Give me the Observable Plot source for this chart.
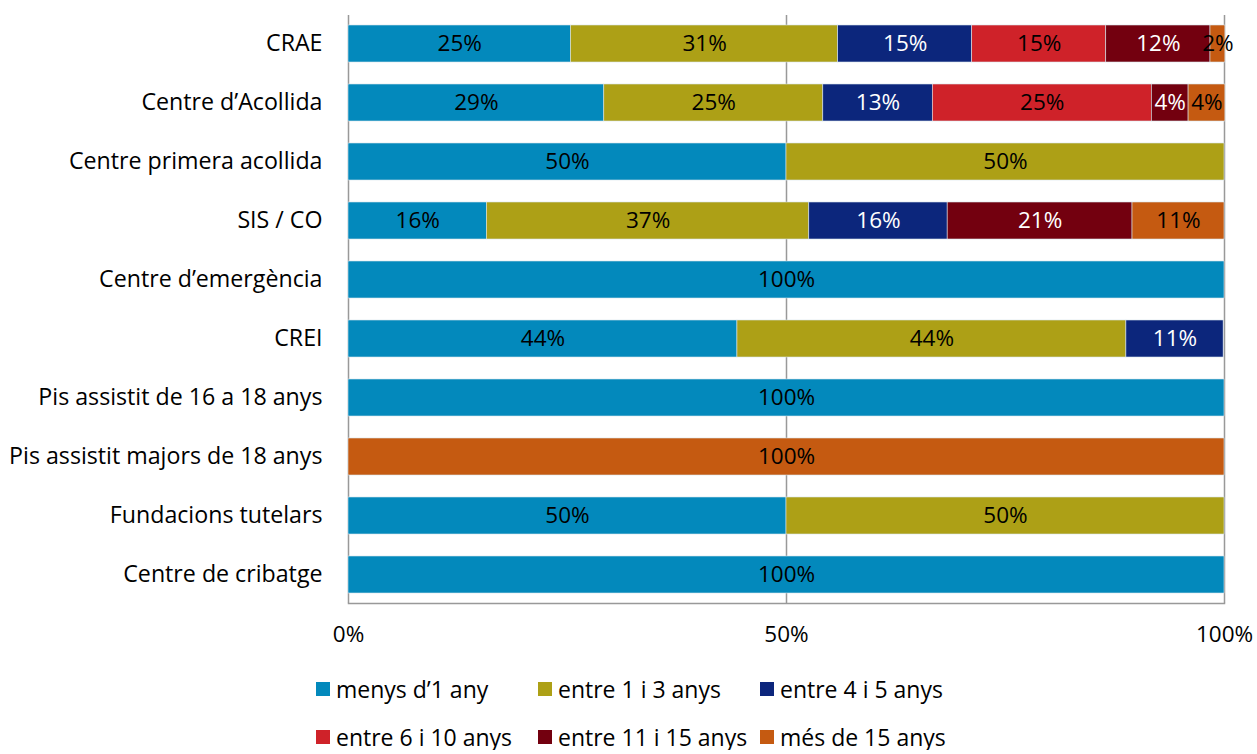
<!DOCTYPE html>
<html>
<head>
<meta charset="utf-8">
<script src="https://cdn.jsdelivr.net/npm/d3@7"></script>
<script src="https://cdn.jsdelivr.net/npm/@observablehq/plot@0.6"></script>
<style>
  body { margin: 0; background: #fff; font-family: "Open Sans", sans-serif; }
  #legend { display: grid; grid-template-columns: 222px 222px 222px; margin-left: 316px; row-gap: 22px; margin-top: 21px; }
  .item { display: flex; align-items: center; font-size: 23px; line-height: 26px; color: #000; height: 26px; white-space: nowrap; }
  .sw { width: 14px; height: 14px; margin-right: 6px; flex: none; }
</style>
</head>
<body>
<div id="chart"></div>
<div id="legend"></div>
<script>
const categories = ["CRAE", "Centre d’Acollida", "Centre primera acollida", "SIS / CO", "Centre d’emergència", "CREI", "Pis assistit de 16 a 18 anys", "Pis assistit majors de 18 anys", "Fundacions tutelars", "Centre de cribatge"];
const seriesNames = ["menys d’1 any", "entre 1 i 3 anys", "entre 4 i 5 anys", "entre 6 i 10 anys", "entre 11 i 15 anys", "més de 15 anys"];
const colors = ["#0389BC", "#ADA016", "#0C267C", "#CF2229", "#73000F", "#C55A11"];
const labelColors = ["#000", "#000", "#fff", "#000", "#fff", "#000"];
// shares per series, one value per category (in category order)
const menys1 = [0.254, 0.292, 0.50, 0.158, 1.00, 0.444, 1.00, 0.00, 0.50, 1.00];
const entre1i3 = [0.305, 0.250, 0.50, 0.368, 0.00, 0.444, 0.00, 0.00, 0.50, 0.00];
const entre4i5 = [0.153, 0.125, 0.00, 0.158, 0.00, 0.111, 0.00, 0.00, 0.00, 0.00];
const entre6i10 = [0.153, 0.250, 0.00, 0.00, 0.00, 0.00, 0.00, 0.00, 0.00, 0.00];
const entre11i15 = [0.119, 0.042, 0.00, 0.211, 0.00, 0.00, 0.00, 0.00, 0.00, 0.00];
const mes15 = [0.017, 0.042, 0.00, 0.105, 0.00, 0.00, 0.00, 1.00, 0.00, 0.00];
const xTicks = [0, 0.5, 1];

const seriesValues = [menys1, entre1i3, entre4i5, entre6i10, entre11i15, mes15];
const rows = [];
categories.forEach((c, ci) => {
  seriesValues.forEach((vals, si) => {
    if (vals[ci] > 0) rows.push({cat: c, series: seriesNames[si], si, value: vals[ci]});
  });
});

const fs = 22.5;
const chart = Plot.plot({
  width: 1257,
  height: 655,
  marginLeft: 348,
  marginRight: 33,
  marginTop: 15,
  marginBottom: 52,
  style: {fontFamily: "'Open Sans', sans-serif", fontSize: fs + "px", color: "#000"},
  x: {domain: [0, 1], ticks: xTicks, tickFormat: d => Math.round(d * 100) + "%"},
  y: {domain: categories, paddingInner: 0.37, paddingOuter: 0.15, label: null},
  color: {domain: seriesNames, range: colors},
  marks: [
    Plot.ruleX(xTicks, {stroke: "#999", strokeWidth: 1.5}),
    Plot.frame({anchor: "bottom", stroke: "#999", strokeWidth: 1.5}),
    Plot.barX(rows, Plot.stackX({x: "value", y: "cat", fill: "series", stroke: "#d8e4ec", strokeWidth: 0.6, order: null})),
    Plot.text(rows, Plot.stackX({x: "value", y: "cat", order: null,
      text: d => Math.round(d.value * 100) + "%",
      fill: d => labelColors[d.si], fontSize: fs})),
    Plot.axisX({ticks: xTicks, tickSize: 0, tickPadding: 23, tickFormat: d => Math.round(d * 100) + "%", label: null, fontSize: fs}),
    Plot.axisY({tickSize: 0, tickPadding: 26, label: null, fontSize: 23.2})
  ]
});
document.getElementById("chart").appendChild(chart);

const legend = document.getElementById("legend");
seriesNames.forEach((n, i) => {
  const it = document.createElement("div");
  it.className = "item";
  const sw = document.createElement("span");
  sw.className = "sw";
  sw.style.background = colors[i];
  it.appendChild(sw);
  it.appendChild(document.createTextNode(n));
  legend.appendChild(it);
});
</script>
</body>
</html>
